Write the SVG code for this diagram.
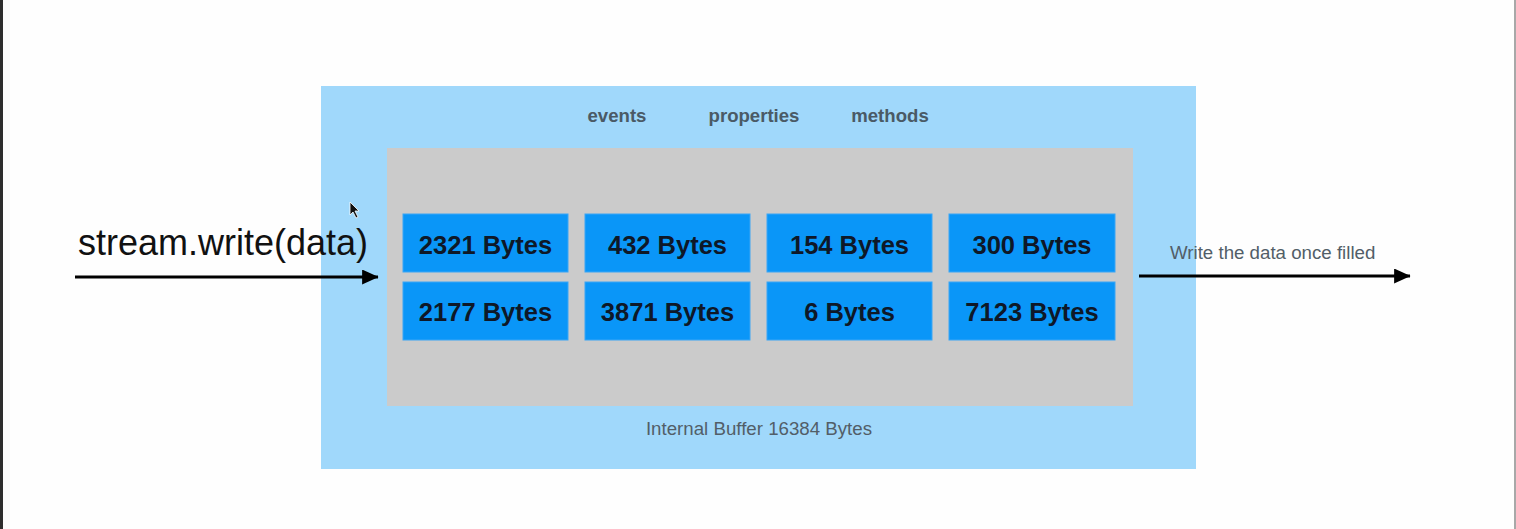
<svg xmlns="http://www.w3.org/2000/svg" width="1516" height="529" viewBox="0 0 1516 529">
<style>
.chunk{fill:#0a96f8;stroke:#3aa6f6;stroke-width:1}
.ct{font-family:"Liberation Sans",Arial,sans-serif;font-weight:bold;font-size:25.5px;fill:#0e1828;text-anchor:middle}
.hd{font-family:"Liberation Sans",Arial,sans-serif;font-weight:bold;font-size:18.6px;fill:#4a5a66;text-anchor:middle}
.lb{font-family:"Liberation Sans",Arial,sans-serif;font-size:18.7px;fill:#525e68}
.conn{stroke:#000;stroke-width:3;fill:none}
</style>
<defs>
<marker id="ah" markerWidth="6" markerHeight="5" refX="5.3" refY="2.5" orient="auto" markerUnits="strokeWidth">
<polygon points="0,0 5.5,2.5 0,5" fill="#000"/>
</marker>
</defs>
<rect x="0" y="0" width="1516" height="529" fill="#fefefe"/>
<rect x="0" y="0" width="3" height="529" fill="#2e2e2e"/>
<rect x="1514" y="0" width="2" height="529" fill="#a8a8a8"/>

<g id="stream">
<rect x="321" y="86" width="875" height="383" fill="#a0d8fb"/>
<text class="hd" x="617" y="122">events</text>
<text class="hd" x="754" y="122">properties</text>
<text class="hd" x="890" y="122">methods</text>
</g>

<g id="buffer">
<rect x="387" y="148" width="746" height="258" fill="#cbcbcb"/>
<text class="lb" x="759" y="435" text-anchor="middle" font-size="19.3">Internal Buffer 16384 Bytes</text>
</g>

<g id="chunk-2321"><rect class="chunk" x="403" y="214" width="165" height="58"/><text class="ct" x="485.5" y="254">2321 Bytes</text></g>
<g id="chunk-432"><rect class="chunk" x="585" y="214" width="165" height="58"/><text class="ct" x="667.5" y="254">432 Bytes</text></g>
<g id="chunk-154"><rect class="chunk" x="767" y="214" width="165" height="58"/><text class="ct" x="849.5" y="254">154 Bytes</text></g>
<g id="chunk-300"><rect class="chunk" x="949" y="214" width="166" height="58"/><text class="ct" x="1032" y="254">300 Bytes</text></g>
<g id="chunk-2177"><rect class="chunk" x="403" y="282" width="165" height="58"/><text class="ct" x="485.5" y="321">2177 Bytes</text></g>
<g id="chunk-3871"><rect class="chunk" x="585" y="282" width="165" height="58"/><text class="ct" x="667.5" y="321">3871 Bytes</text></g>
<g id="chunk-6"><rect class="chunk" x="767" y="282" width="165" height="58"/><text class="ct" x="849.5" y="321">6 Bytes</text></g>
<g id="chunk-7123"><rect class="chunk" x="949" y="282" width="166" height="58"/><text class="ct" x="1032" y="321">7123 Bytes</text></g>

<g id="connectors">
<line class="conn" x1="75" y1="277" x2="378" y2="277" marker-end="url(#ah)"/>
<text x="78" y="255" font-family="Liberation Sans, Arial, sans-serif" font-size="36" fill="#111">stream.write(data)</text>
<line class="conn" x1="1139" y1="276" x2="1410" y2="276" marker-end="url(#ah)"/>
<text class="lb" x="1170" y="259">Write the data once filled</text>
</g>

<polygon points="350,202 350,215 353,212 356,218 358,217 355,211 359,211" fill="#111" stroke="#fff" stroke-width="0.8"/>
</svg>
